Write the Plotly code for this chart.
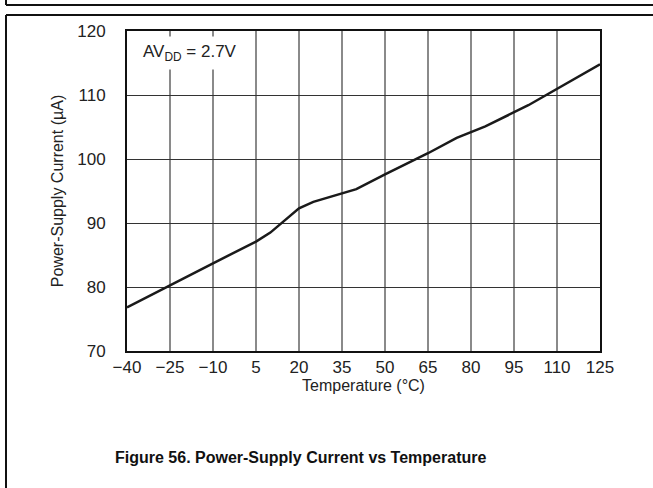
import plotly.graph_objects as go

temperature_c = [-40, -25, -10, 5, 10, 20, 25, 40, 50, 65, 75, 85, 100, 125]
supply_current_ua = [76.8, 80.3, 83.7, 87.1, 88.5, 92.3, 93.3, 95.3, 97.6, 100.9, 103.3, 105.1, 108.4, 114.8]

x_ticks = [-40, -25, -10, 5, 20, 35, 50, 65, 80, 95, 110, 125]
x_tick_labels = ["\u221240", "\u221225", "\u221210", "5", "20", "35", "50", "65", "80", "95", "110", "125"]
y_ticks = [70, 80, 90, 100, 110, 120]

W, H = 653, 488
L, R, T, B = 127, 600, 31, 351

def px(x):
    return (x - L) / (R - L)

def py(y):
    return (B - y) / (B - T)

fig = go.Figure()
fig.add_trace(go.Scatter(x=temperature_c, y=supply_current_ua, mode="lines",
                         line=dict(color="#1a1a1a", width=2.5), showlegend=False,
                         hoverinfo="skip"))

font = "Liberation Sans, Arial, sans-serif"
fig.update_layout(
    width=W, height=H,
    margin=dict(l=L, r=W - R, t=T, b=H - B),
    paper_bgcolor="white", plot_bgcolor="white",
    font=dict(family=font, size=17, color="#222"),
    xaxis=dict(range=[-40, 125], tickvals=x_ticks, ticktext=x_tick_labels,
               showgrid=True, gridcolor="#8a8a8a", gridwidth=1.5,
               showline=True, linecolor="#111", linewidth=2, mirror=True,
               ticks="", zeroline=False, tickfont=dict(size=17),
               title=dict(text="Temperature (\u00b0C)", standoff=2, font=dict(size=16))),
    yaxis=dict(range=[70, 120], tickvals=y_ticks,
               showgrid=True, gridcolor="#333", gridwidth=1,
               showline=True, linecolor="#111", linewidth=2, mirror=True,
               ticks="", zeroline=False, ticklabelstandoff=16, tickfont=dict(size=17),
               title=dict(text="Power-Supply Current (\u00b5A)", standoff=10, font=dict(size=16))),
)

fig.add_annotation(xref="paper", yref="paper", x=px(137), y=py(53), xanchor="left", yanchor="middle",
                   text="AV<sub>DD</sub> = 2.7V", showarrow=False, bgcolor="white",
                   borderpad=5, font=dict(size=17, family=font, color="#222"))

fig.add_annotation(xref="paper", yref="paper", x=px(300), y=py(457), xanchor="center", yanchor="middle",
                   text="<b>Figure 56. Power-Supply Current vs Temperature</b>", showarrow=False,
                   font=dict(size=16, family=font, color="#111"))

line_style = dict(color="#111", width=2)
fig.add_shape(type="line", xref="paper", yref="paper", x0=px(6), x1=px(653), y0=py(5), y1=py(5), line=line_style)
fig.add_shape(type="line", xref="paper", yref="paper", x0=px(6), x1=px(6), y0=py(0), y1=py(5), line=line_style)
fig.add_shape(type="line", xref="paper", yref="paper", x0=px(6), x1=px(653), y0=py(15), y1=py(15), line=line_style)
fig.add_shape(type="line", xref="paper", yref="paper", x0=px(6), x1=px(6), y0=py(15), y1=py(488), line=line_style)

fig.write_html("out.html", config={"displayModeBar": False},
               post_script="document.body.style.margin='0';")
